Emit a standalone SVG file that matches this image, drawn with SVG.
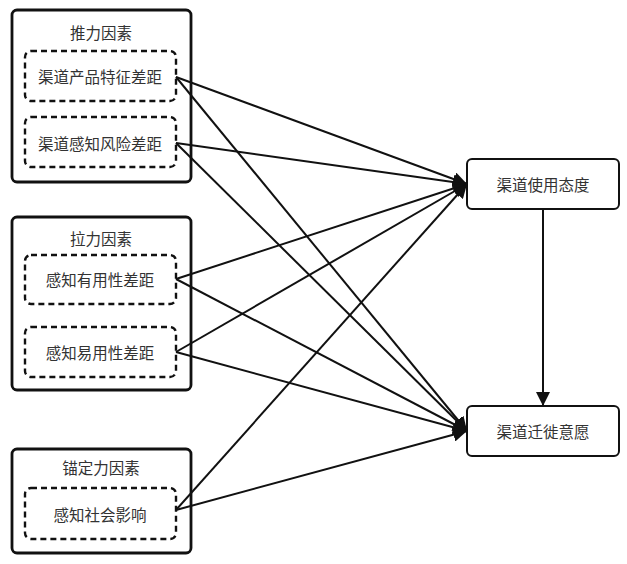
<svg xmlns="http://www.w3.org/2000/svg" width="627" height="564" viewBox="0 0 627 564">
<style>
.outer{fill:#fff;stroke:#111;stroke-width:2.8}
.dash{fill:#fff;stroke:#111;stroke-width:2.4;stroke-dasharray:6 4}
.box{fill:#fff;stroke:#111;stroke-width:2}
.t{font-family:"Noto Sans CJK SC","Noto Sans",sans-serif;font-size:15.5px;fill:#333;text-anchor:middle;dominant-baseline:central}
.c{stroke:#111;stroke-width:2;fill:none;marker-end:url(#ah)}
</style>
<defs>
<marker id="ah" viewBox="0 0 10 10" refX="10" refY="5" markerWidth="7" markerHeight="7" orient="auto" markerUnits="strokeWidth">
<path d="M0,0 L10,5 L0,10 z" fill="#111"/>
</marker>
</defs>
<rect width="627" height="564" fill="#fff"/>
<g id="push">
<rect class="outer" x="12" y="10" width="179" height="172" rx="5"/>
<text class="t" x="101" y="32">推力因素</text>
</g>
<g id="n1">
<rect class="dash" x="25" y="51" width="151" height="50" rx="6"/>
<text class="t" x="100" y="76">渠道产品特征差距</text>
</g>
<g id="n2">
<rect class="dash" x="25" y="117" width="151" height="50" rx="6"/>
<text class="t" x="100" y="143">渠道感知风险差距</text>
</g>
<g id="pull">
<rect class="outer" x="12" y="217" width="179" height="173" rx="5"/>
<text class="t" x="101" y="238">拉力因素</text>
</g>
<g id="n3">
<rect class="dash" x="25" y="255" width="151" height="49" rx="6"/>
<text class="t" x="100" y="279">感知有用性差距</text>
</g>
<g id="n4">
<rect class="dash" x="25" y="327" width="151" height="50" rx="6"/>
<text class="t" x="100" y="352">感知易用性差距</text>
</g>
<g id="anchor">
<rect class="outer" x="12" y="449" width="179" height="104" rx="5"/>
<text class="t" x="101" y="467">锚定力因素</text>
</g>
<g id="n5">
<rect class="dash" x="25" y="488" width="151" height="51" rx="6"/>
<text class="t" x="100" y="514">感知社会影响</text>
</g>
<g id="attitude">
<rect class="box" x="467" y="159" width="152" height="50" rx="5"/>
<text class="t" x="543" y="184">渠道使用态度</text>
</g>
<g id="intention">
<rect class="box" x="467" y="406" width="152" height="50" rx="5"/>
<text class="t" x="543" y="431">渠道迁徙意愿</text>
</g>
<g id="connectors">
<line class="c" x1="176" y1="77" x2="467" y2="184"/>
<line class="c" x1="176" y1="77" x2="467" y2="431"/>
<line class="c" x1="176" y1="143" x2="467" y2="184"/>
<line class="c" x1="176" y1="143" x2="467" y2="431"/>
<line class="c" x1="176" y1="279" x2="467" y2="184"/>
<line class="c" x1="176" y1="279" x2="467" y2="431"/>
<line class="c" x1="176" y1="352" x2="467" y2="184"/>
<line class="c" x1="176" y1="352" x2="467" y2="431"/>
<line class="c" x1="176" y1="510" x2="467" y2="184"/>
<line class="c" x1="176" y1="510" x2="467" y2="431"/>
<line class="c" x1="543" y1="209" x2="543" y2="406"/>
</g>
</svg>
